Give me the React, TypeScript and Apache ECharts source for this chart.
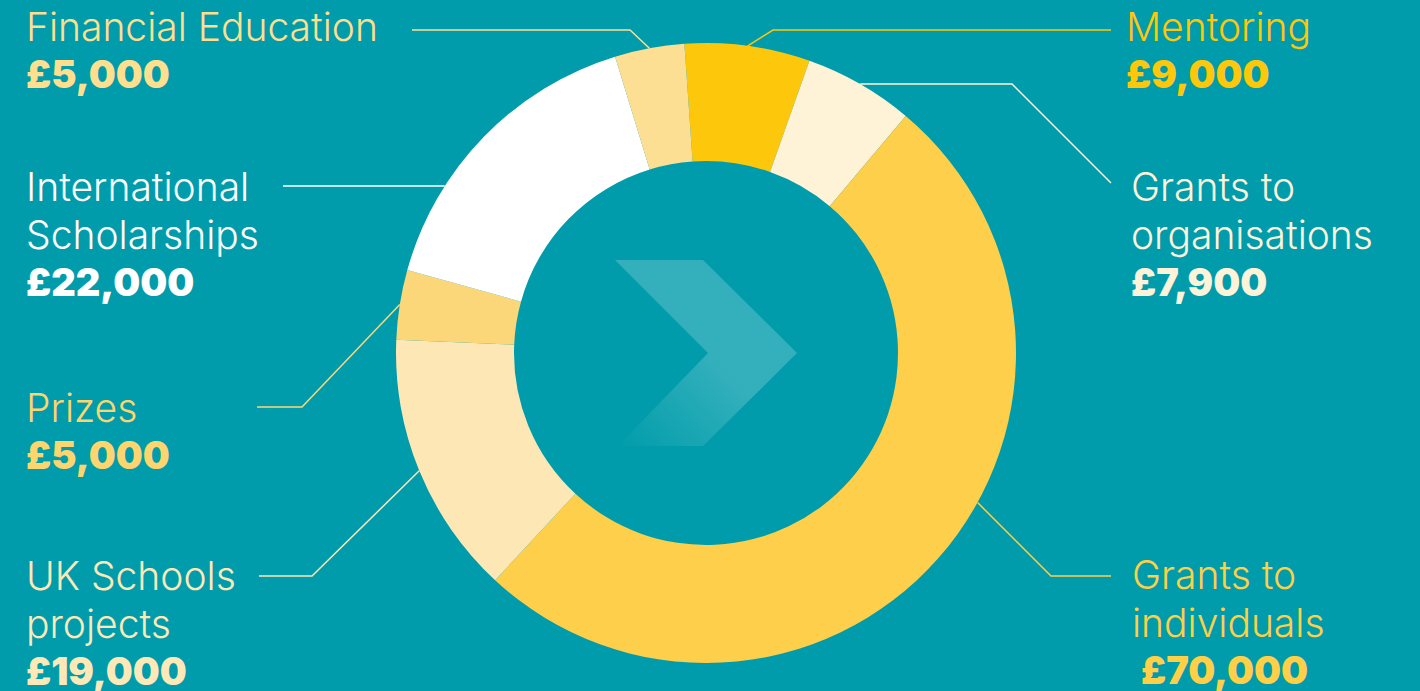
import React, { useEffect, useRef } from "react";
import * as echarts from "echarts";

// ---- data ----
const categories = [
  "Mentoring",
  "Grants to organisations",
  "Grants to individuals",
  "UK Schools projects",
  "Prizes",
  "International Scholarships",
  "Financial Education",
];
const amounts = [9000, 7900, 70000, 19000, 5000, 22000, 5000];
const sliceColors = ["#FDC70C", "#FEF3D6", "#FECF4A", "#FDE8B5", "#FCD77A", "#FFFFFF", "#FDDF94"];
const labelColors = ["#FDC70C", "#FDF3D9", "#FECF47", "#FDE9B8", "#FDD56E", "#FFFFFF", "#FDDF8F"];
const wordsOnFirstLine = [0, 2, 2, 2, 0, 1, 0];

// ---- layout ----
const W = 1420;
const H = 691;
const CX = 706;
const CY = 353;
const R0 = 192;
const R = 310;
const BG = "#009CAB";
const labelSpots = [
  { x: 1126, y: 2 },
  { x: 1131, y: 162 },
  { x: 1132, y: 550 },
  { x: 26, y: 551 },
  { x: 26, y: 383 },
  { x: 26, y: 162 },
  { x: 26, y: 2 },
];

function linePoints(i: number, mid: number[]): number[][] {
  switch (i) {
    case 0:
      return [mid, [773, 30], [1111, 30]];
    case 1: {
      const ey = 183;
      return [mid, [1111 - (ey - mid[1]), mid[1]], [1111, ey]];
    }
    case 2: {
      const bx = 1051, by = 576;
      const a = bx - CX, b = by - CY;
      const t = ((a + b) - Math.sqrt((a + b) * (a + b) - 2 * (a * a + b * b - R * R))) / 2;
      return [[bx - t, by - t], [bx, by], [1111, by]];
    }
    case 3:
      return [mid, [312, 576], [259, 576]];
    case 4:
      return [mid, [302, 407], [257, 407]];
    case 5: {
      const y = 186;
      return [[CX - Math.sqrt(R * R - (y - CY) * (y - CY)), y], [283, y]];
    }
    case 6:
    default:
      return [mid, [630, 30], [412, 30]];
  }
}

function formatLabel(i: number): string {
  const name = categories[i];
  const words = name.split(" ");
  const k = wordsOnFirstLine[i];
  const lines = k > 0 && k < words.length
    ? [words.slice(0, k).join(" "), words.slice(k).join(" ")]
    : [name];
  const val = "£" + amounts[i].toLocaleString("en-GB");
  const vStyle = i === 2 ? "vi" : "v";
  return lines.map((l) => `{n|${l}}`).join("\n") + `\n{${vStyle}|${val}}`;
}

export default function App() {
  const ref = useRef<HTMLDivElement>(null);

  useEffect(() => {
    if (!ref.current) return;
    const chart = echarts.init(ref.current, undefined, { renderer: "svg" });

    const data = categories.map((name, i) => ({
      name,
      value: amounts[i],
      itemStyle: { color: sliceColors[i] },
      label: { color: labelColors[i] },
      labelLine: { lineStyle: { color: sliceColors[i], width: 1.5 } },
    }));

    const nameStyle = {
      fontFamily: "Inter, sans-serif",
      fontWeight: 300,
      fontSize: 39,
      lineHeight: 48,
    };
    const valueStyle = {
      fontFamily: "Inter, sans-serif",
      fontWeight: 900,
      fontSize: 38,
      lineHeight: 48,
    };

    chart.setOption({
      animation: false,
      backgroundColor: BG,
      graphic: [
        {
          type: "polygon",
          z: 1,
          silent: true,
          shape: {
            points: [
              [615, 260],
              [703, 260],
              [797, 353],
              [703, 446],
              [618, 446],
              [708, 353],
            ],
          },
          style: {
            fill: new echarts.graphic.LinearGradient(0, 1, 0.5, 0.5, [
              { offset: 0, color: "rgba(255,255,255,0)" },
              { offset: 1, color: "rgba(255,255,255,0.2)" },
            ]),
          },
        },
      ],
      series: [
        {
          type: "pie",
          silent: true,
          center: [CX, CY],
          radius: [R0, R],
          startAngle: 94,
          clockwise: true,
          avoidLabelOverlap: false,
          emphasis: { disabled: true },
          itemStyle: { borderWidth: 0 },
          label: {
            show: true,
            position: "outer",
            formatter: (p: any) => formatLabel(p.dataIndex),
            rich: {
              n: nameStyle,
              v: valueStyle,
              vi: { ...valueStyle, padding: [0, 0, 0, 9] },
            },
          },
          labelLine: { show: true, length: 10, length2: 10 },
          labelLayout: (params: any) => {
            const i = params.dataIndex;
            const spot = labelSpots[i];
            const mid = params.labelLinePoints ? params.labelLinePoints[0] : [CX, CY];
            return {
              x: spot.x,
              y: spot.y,
              align: "left",
              verticalAlign: "top",
              labelLinePoints: linePoints(i, mid),
            };
          },
          data,
        },
      ],
    });

    return () => chart.dispose();
  }, []);

  return (
    <div
      ref={ref}
      style={{ position: "absolute", left: 0, top: 0, width: W, height: H, background: BG }}
    />
  );
}
